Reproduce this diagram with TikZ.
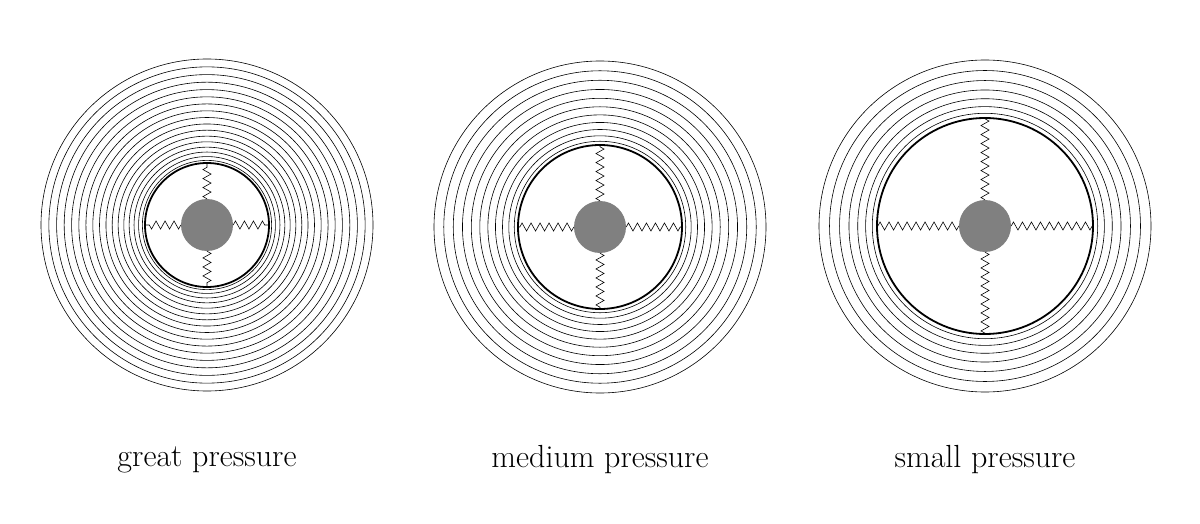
\documentclass[tikz,border=0pt]{standalone}
\usetikzlibrary{decorations.pathmorphing}
\begin{document}
\begin{tikzpicture}[x=1pt,y=-1pt,
  ring/.style={draw=black,line width=0.6pt},
  wall/.style={draw=black,line width=1.8pt},
  ball/.style={circle,fill=black!50,draw=none,minimum size=52pt,inner sep=0pt},
  spring/.style={draw=black,line width=0.6pt,decorate,decoration={zigzag,amplitude=4pt,segment length=9pt}},
  lbl/.style={font=\fontsize{32}{36}\selectfont}]
\useasboundingbox (0,0) rectangle (1200,524);
\foreach \cx/\cy/\ri/\n/\nm/\txt in {207/225/62/17/a/great pressure, 600/227/82/11/b/medium pressure, 985/226/108/7/c/small pressure}{
  \foreach \k in {1,...,\n}{
    \draw[ring] (\cx,\cy) circle ({\ri+(166-\ri)*pow(\k/\n,1.3)});
  }
  \draw[wall] (\cx,\cy) circle (\ri);
  \node[ball] (\nm0) at (\cx,\cy) {};
  \coordinate (\nm n) at (\cx,\cy-\ri);
  \coordinate (\nm s) at (\cx,\cy+\ri);
  \coordinate (\nm e) at (\cx+\ri,\cy);
  \coordinate (\nm w) at (\cx-\ri,\cy);
  \draw[spring] (\nm0.north) -- (\nm n);
  \draw[spring] (\nm0.south) -- (\nm s);
  \draw[spring] (\nm0.east) -- (\nm e);
  \draw[spring] (\nm0.west) -- (\nm w);
  \node[lbl] (\nm t) at (\cx,460) {\txt};
}
\end{tikzpicture}
\end{document}
